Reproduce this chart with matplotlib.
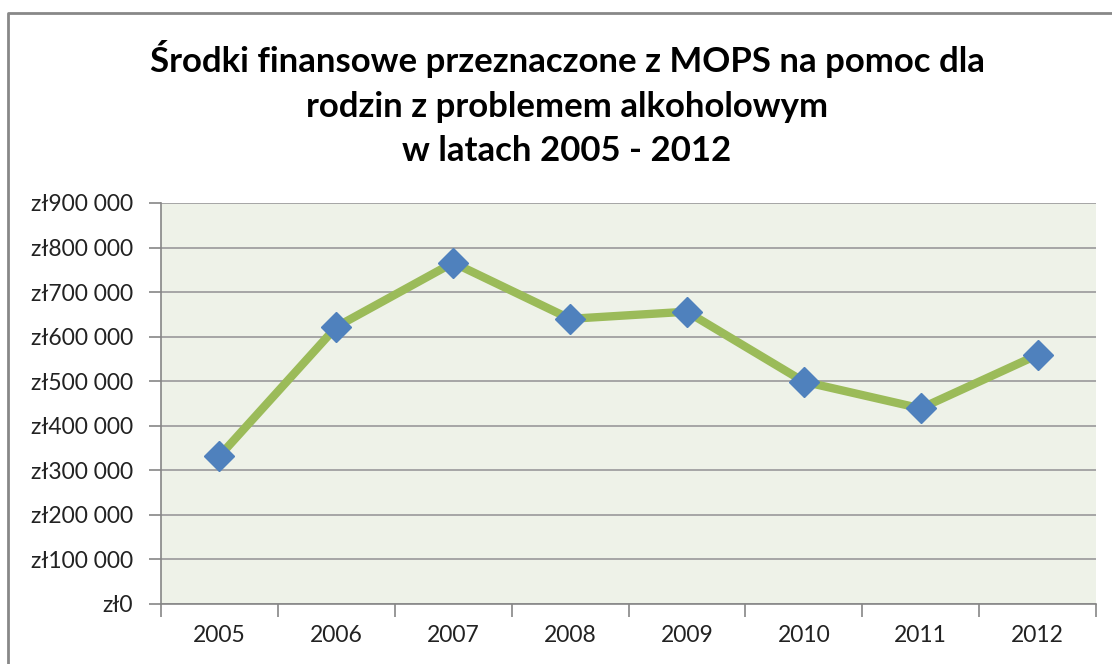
import matplotlib.pyplot as plt
from matplotlib.lines import Line2D
from matplotlib.ticker import FuncFormatter, FixedLocator

years = ['2005', '2006', '2007', '2008', '2009', '2010', '2011', '2012']
values = [332000, 622000, 766000, 640000, 656000, 499000, 439000, 559000]

plt.rcParams['font.family'] = ['Lato', 'DejaVu Sans']

fig = plt.figure(figsize=(11.12, 6.64), dpi=100)
ax = fig.add_axes([0.1448, 0.0904, 0.8408, 0.6039])
ax.set_facecolor('#EEF2E8')

x = list(range(len(years)))
ax.plot(x, values, color='#9BBB59', linewidth=6, solid_capstyle='round',
        marker='D', markersize=15, markerfacecolor='#4F81BD',
        markeredgecolor='#4F81BD', zorder=3)

ax.set_xlim(-0.5, len(years) - 0.5)
ax.set_ylim(0, 900000)
ax.yaxis.set_major_locator(FixedLocator(range(0, 900001, 100000)))
ax.yaxis.set_major_formatter(FuncFormatter(
    lambda v, p: 'zł' + f'{v:,.0f}'.replace(',', ' ')))
ax.grid(axis='y', color='#A0A0A0', linewidth=1.3)
ax.set_axisbelow(True)

ax.set_xticks(x)
ax.set_xticklabels(years)
ax.set_xticks([i - 0.5 for i in range(len(years) + 1)], minor=True)
ax.tick_params(axis='x', which='major', length=0, pad=15, labelsize=16.5, colors='#222222')
ax.tick_params(axis='x', which='minor', length=9, width=1.2, color='#868686')
ax.tick_params(axis='y', length=9, width=1.2, color='#868686', labelsize=16.5,
               pad=11, labelcolor='#222222')

for s in ['top', 'right']:
    ax.spines[s].set_visible(False)
for s in ['left', 'bottom']:
    ax.spines[s].set_color('#868686')
    ax.spines[s].set_linewidth(1.2)

fig.text(0.51, 0.844, 'Środki finansowe przeznaczone z MOPS na pomoc dla\n'
         'rodzin z problemem alkoholowym\nw latach 2005 - 2012',
         ha='center', va='center', fontsize=25, fontweight='bold',
         linespacing=1.47, color='black')

# chart frame (left and top edges only)
fx, fy = 8 / 1112, 1 - 13 / 664
fig.lines.append(Line2D([fx, fx, 1.0], [0.0, fy, fy], transform=fig.transFigure,
                        color='#888888', linewidth=2))

fig.savefig('out.png', dpi=100)
